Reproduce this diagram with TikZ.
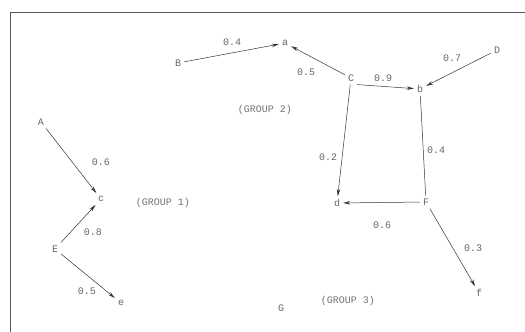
\documentclass[tikz,border=0pt]{standalone}
\usepackage{fontspec}
\setmonofont{Liberation Mono}
\usetikzlibrary{arrows.meta}

\begin{document}
\begin{tikzpicture}[x=1pt, y=-1pt,
    pt/.style={font=\ttfamily\fontsize{10}{10}\selectfont, text=black!60, inner sep=3pt},
    wt/.style={font=\ttfamily\fontsize{10}{10}\selectfont, text=black!60, inner sep=0pt},
    grp/.style={font=\ttfamily\fontsize{10}{10}\selectfont, text=black!55, inner sep=0pt},
    arc/.style={draw=black!80, line width=0.5pt, -{Stealth[length=7pt, width=3.5pt]}},
    link/.style={draw=black!80, line width=0.5pt}]
      \useasboundingbox (0,0) rectangle (525,332);
      % frame
      \draw[black!65, line width=0.7pt] (525,12) -- (10,12) -- (10,332);
      % group 1
      \node[pt] (A) at (41,122) {A};
      \node[pt] (E) at (55,249) {E};
      \node[pt] (c) at (101,199) {c};
      \node[pt] (e) at (121,303) {e};
      % group 2
      \node[pt] (B) at (178,63) {B};
      \node[pt] (a) at (285,43) {a};
      \node[pt] (C) at (351,78) {C};
      \node[pt] (b) at (420,89) {b};
      \node[pt] (D) at (497,50) {D};
      % group 3
      \node[pt] (d) at (337,203) {d};
      \node[pt] (F) at (426,202) {F};
      \node[pt] (f) at (479,293) {f};
      \node[pt] (G) at (281,308) {G};
      % edges
      \draw[arc] (A) -- (c);
      \draw[arc] (E) -- (c);
      \draw[arc] (E) -- (e);
      \draw[arc] (B) -- (a);
      \draw[arc] (C) -- (a);
      \draw[arc] (C.south east) -- (b);
      \draw[arc] (D) -- (b);
      \draw[arc] (C) -- (d);
      \draw[link] (b) -- (F);
      \draw[arc] (F) -- (d);
      \draw[arc] (F) -- (f);
      % weights
      \node[wt] (wAc) at (101,162) {0.6};
      \node[wt] (wEc) at (93,232) {0.8};
      \node[wt] (wEe) at (87,291) {0.5};
      \node[wt] (wBa) at (232,42) {0.4};
      \node[wt] (wCa) at (306,72) {0.5};
      \node[wt] (wCb) at (383,78) {0.9};
      \node[wt] (wDb) at (452,58) {0.7};
      \node[wt] (wCd) at (328,157) {0.2};
      \node[wt] (wbF) at (436,150) {0.4};
      \node[wt] (wFd) at (382,225) {0.6};
      \node[wt] (wFf) at (473,248) {0.3};
      % group labels
      \node[grp] (g1) at (163,203) {(GROUP 1)};
      \node[grp] (g2) at (265,110) {(GROUP 2)};
      \node[grp] (g3) at (348,301) {(GROUP 3)};
\end{tikzpicture}
\end{document}
